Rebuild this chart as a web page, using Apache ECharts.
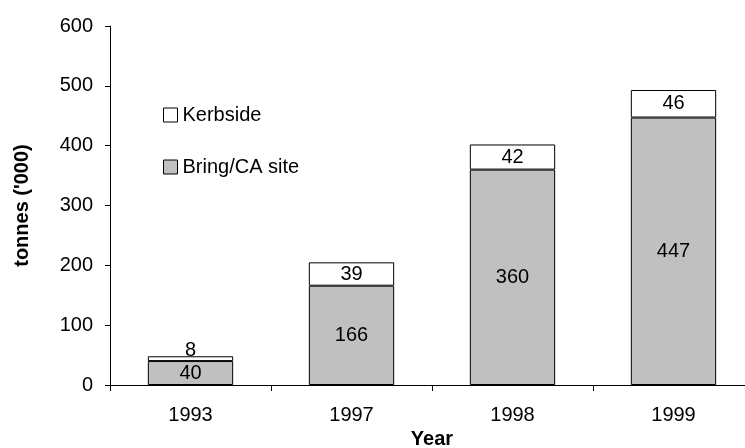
<!DOCTYPE html>
<html lang="en">

<head>
    <meta charset="UTF-8">
    <title>Recycling tonnes</title>
    <script src="https://cdn.jsdelivr.net/npm/echarts/dist/echarts.min.js"></script>
    <style>
        html, body {
            margin: 0;
            padding: 0;
            background: #fff;
        }

        #chart {
            width: 745px;
            height: 448px;
        }
    </style>
</head>

<body>
    <div id="chart"></div>
    <script>
        var years = ['1993', '1997', '1998', '1999'];
        var bring_data = [40, 166, 360, 447];
        var kerbside_data = [8, 39, 42, 46];
        var y_ticks = [0, 100, 200, 300, 400, 500, 600];

        var font = 'Liberation Sans, Arial, sans-serif';
        var fsize = 20;

        // small kerbside value for 1993 sits on top of the bar
        var kerb_items = kerbside_data.map(function (v, i) {
            if (v < 20) {
                return { value: v, label: { position: 'top', distance: -4 } };
            }
            return v;
        });

        var chart = echarts.init(document.getElementById('chart'));
        chart.setOption({
            animation: false,
            backgroundColor: '#fff',
            textStyle: { fontFamily: font },
            // the x axis runs a little past the right edge, like the original
            grid: {
                left: 110, width: 644, top: 26, bottom: 63,
                containLabel: false, outerBoundsMode: 'none'
            },
            legend: {
                orient: 'vertical',
                left: 158,
                top: 100,
                itemGap: 32,
                itemWidth: 14,
                itemHeight: 14,
                icon: 'rect',
                data: ['Kerbside', 'Bring/CA site'],
                itemStyle: { borderWidth: 1, borderColor: '#000' },
                textStyle: { fontSize: fsize, color: '#000', fontFamily: font }
            },
            xAxis: {
                type: 'category',
                data: years,
                name: 'Year',
                nameLocation: 'middle',
                nameGap: 43,
                nameTextStyle: { fontSize: fsize, fontWeight: 'bold', color: '#000', fontFamily: font },
                axisLine: { lineStyle: { color: '#000', width: 1 } },
                axisTick: { show: true, length: 6, lineStyle: { color: '#000' } },
                axisLabel: { color: '#000', fontSize: fsize, margin: 20, fontFamily: font }
            },
            yAxis: {
                type: 'value',
                min: y_ticks[0],
                max: y_ticks[y_ticks.length - 1],
                interval: 100,
                name: "tonnes ('000)",
                nameLocation: 'middle',
                nameGap: 78,
                nameTextStyle: { fontSize: fsize, fontWeight: 'bold', color: '#000', fontFamily: font },
                axisLine: { show: true, lineStyle: { color: '#000', width: 1 } },
                axisTick: { show: true, length: 5, lineStyle: { color: '#000' } },
                splitLine: { show: false },
                axisLabel: { color: '#000', fontSize: fsize, margin: 17, fontFamily: font }
            },
            series: [
                {
                    name: 'Bring/CA site',
                    type: 'bar',
                    stack: 'total',
                    barWidth: '53%',
                    data: bring_data,
                    itemStyle: { color: '#C0C0C0', borderColor: '#000', borderWidth: 1 },
                    label: { show: true, position: 'inside', color: '#000', fontSize: fsize, fontFamily: font }
                },
                {
                    name: 'Kerbside',
                    type: 'bar',
                    stack: 'total',
                    barWidth: '53%',
                    data: kerb_items,
                    itemStyle: { color: '#fff', borderColor: '#000', borderWidth: 1 },
                    label: { show: true, position: 'inside', color: '#000', fontSize: fsize, fontFamily: font }
                }
            ]
        });
    </script>
</body>

</html>
